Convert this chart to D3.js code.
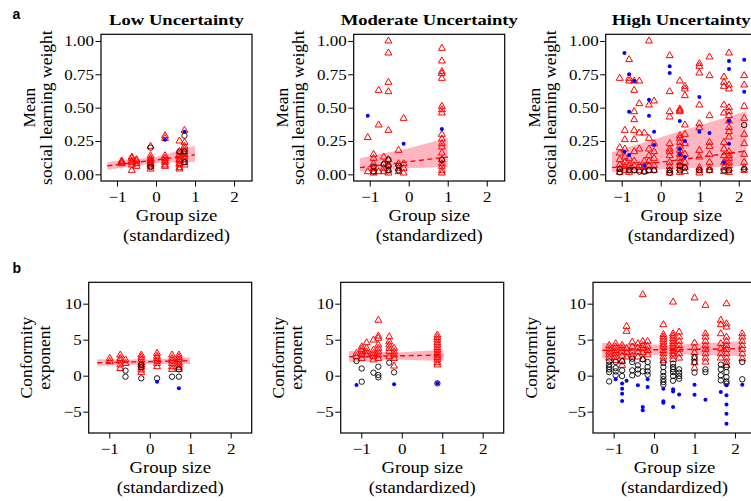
<!DOCTYPE html>
<html>
<head>
<meta charset="utf-8">
<script src="https://cdn.jsdelivr.net/npm/d3@7"></script>
<style>
  body { margin: 0; background: #fff; }
  svg { display: block; }
</style>
</head>
<body>
<svg id="fig" width="751" height="501"></svg>
<script>
// ---------- tick values and labels ----------
const xTicks = [-1, 0, 1, 2];
const weightTicks = [0, 0.25, 0.5, 0.75, 1];
const exponentTicks = [-5, 0, 5, 10];
const conditions = ["Low Uncertainty", "Moderate Uncertainty", "High Uncertainty"];
const xLabel = ["Group size", "(standardized)"];
const weightLabel = ["Mean", "social learning weight"];
const exponentLabel = ["Conformity", "exponent"];

// ---------- data: [group size, [values...]] per marker type ----------
// Mean social learning weight
const weightLowTri = [
  [-0.88, [0.08, 0.09, 0.095, 0.10]],
  [-0.62, [0.03, 0.07, 0.09, 0.10, 0.12, 0.13]],
  [-0.50, [0.06, 0.08, 0.10, 0.11]],
  [-0.14, [0.04, 0.06, 0.07, 0.08, 0.09, 0.10, 0.11, 0.12, 0.14, 0.21]],
  [0.23, [0.06, 0.07, 0.09, 0.10, 0.12, 0.14, 0.27, 0.29]],
  [0.60, [0.04, 0.05, 0.07, 0.08, 0.10, 0.11, 0.13, 0.15, 0.17, 0.25]],
  [0.73, [0.07, 0.09, 0.11, 0.13, 0.15, 0.17, 0.19, 0.21, 0.24, 0.33]]
];
const weightLowCirc = [[-0.14, [0.20, 0.055]], [0.60, [0.17]], [0.73, [0.29, 0.17, 0.09]]];
const weightLowDot = [[0.23, [0.26]], [0.73, [0.32]]];

const weightModTri = [
  [-1.05, [0.276, 0.02]],
  [-0.90, [0.15, 0.12, 0.08, 0.045, 0.02, 0.01]],
  [-0.77, [0.63, 0.37, 0.02]],
  [-0.64, [0.13, 0.08, 0.045, 0.02]],
  [-0.52, [1.0, 0.91, 0.69, 0.62, 0.33, 0.11, 0.07, 0.03, 0.01]],
  [-0.26, [0.18, 0.08, 0.045, 0.02]],
  [-0.13, [0.42, 0.08, 0.045, 0.01]],
  [0.85, [0.945, 0.85, 0.77, 0.755, 0.72, 0.51, 0.485, 0.46, 0.30, 0.265, 0.23, 0.205, 0.16, 0.11, 0.08, 0.06, 0.03, 0.01]]
];
const weightModCirc = [[-0.90, [0.058, 0.02]], [-0.64, [0.075]], [-0.52, [0.11, 0.065, 0.03]], [-0.26, [0.065, 0.03]], [0.85, [0.11]]];
const weightModDot = [[-1.05, [0.44]], [-0.13, [0.23]], [0.85, [0.34]]];

const weightHighTri = [
  [-1.05, [0.72, 0.20, 0.16, 0.11, 0.07, 0.04, 0.015]],
  [-0.92, [0.33, 0.26, 0.19, 0.13, 0.09, 0.06, 0.03]],
  [-0.81, [0.86, 0.72, 0.70, 0.12, 0.065, 0.03, 0.015]],
  [-0.68, [0.70, 0.63, 0.47, 0.41, 0.33, 0.26, 0.17, 0.10, 0.065, 0.03]],
  [-0.55, [0.70, 0.53, 0.31, 0.19, 0.065, 0.03]],
  [-0.42, [0.31, 0.10, 0.06, 0.02]],
  [-0.30, [1.0, 0.52, 0.27, 0.19, 0.14, 0.10, 0.065, 0.03]],
  [-0.17, [0.55, 0.23, 0.17, 0.12, 0.065, 0.03]],
  [0.23, [0.89, 0.62, 0.47, 0.43, 0.23, 0.19, 0.17, 0.14, 0.09, 0.06, 0.03, 0.01]],
  [0.49, [0.70, 0.49, 0.48, 0.47, 0.29, 0.27, 0.24, 0.21, 0.18, 0.15, 0.12, 0.09, 0.065, 0.04, 0.015]],
  [0.62, [0.66, 0.64, 0.59, 0.37, 0.30, 0.23, 0.15, 0.09, 0.05, 0.02]],
  [0.99, [0.83, 0.81, 0.76, 0.52, 0.38, 0.35, 0.18, 0.13, 0.05, 0.03, 0.01]],
  [1.25, [0.88, 0.74, 0.44, 0.24, 0.21, 0.15, 0.09, 0.05, 0.03]],
  [1.62, [0.73, 0.69, 0.66, 0.52, 0.46, 0.24, 0.19, 0.14, 0.09, 0.05, 0.02]],
  [1.75, [0.91, 0.67, 0.64, 0.50, 0.47, 0.44, 0.40, 0.35, 0.32, 0.28, 0.17, 0.14, 0.12, 0.09, 0.065, 0.04, 0.015]],
  [2.14, [0.74, 0.67, 0.51, 0.42, 0.30, 0.23, 0.15, 0.09, 0.05, 0.03]]
];
const weightHighCirc = [
  [-1.05, [0.04, 0.015]], [-0.81, [0.03]], [-0.68, [0.03]], [-0.55, [0.02]], [-0.42, [0.02]],
  [-0.30, [0.03]], [-0.17, [0.03]], [0.23, [0.03, 0.01]], [0.49, [0.065, 0.03]], [0.62, [0.05]],
  [0.99, [0.03]], [1.25, [0.03]], [1.62, [0.03]], [1.75, [0.03]], [2.14, [0.37, 0.04]]
];
const weightHighDot = [
  [-0.93, [0.91, 0.17]], [-0.81, [0.75, 0.47, 0.145]], [-0.68, [0.70]], [-0.42, [0.065]],
  [-0.30, [0.56, 0.44]], [-0.17, [0.32, 0.22]], [0.23, [0.81, 0.76]], [0.49, [0.40, 0.19, 0.15]],
  [0.62, [0.25, 0.13]], [0.99, [0.58, 0.32]], [1.25, [0.31]], [1.62, [0.09]],
  [1.75, [0.85, 0.79, 0.40, 0.23]], [2.14, [0.86, 0.62]]
];

// Conformity exponent
const expLowTri = [
  [-0.99, [2.4, 1.95]],
  [-0.73, [2.87, 2.4, 2.04, 1.5, 1.0]],
  [-0.60, [2.2, 1.7]],
  [-0.21, [2.87, 2.55, 2.2, 1.8, 1.5, 1.16, 0.8, 0.46]],
  [0.18, [3.1, 2.7, 2.4, 2.04, 1.7, 1.25]],
  [0.55, [2.87, 2.4, 2.04, 1.7, 1.25, 0.88]],
  [0.72, [2.87, 2.55, 2.2, 1.8, 1.5, 1.16, 0.88]]
];
const expLowCirc = [[-0.60, [0.7, -0.14]], [-0.21, [1.5, 1.16, -0.37]], [0.18, [-0.37]], [0.55, [-0.14]], [0.72, [0.88, -0.14]]];
const expLowDot = [[0.18, [-0.83]], [0.72, [-1.76]]];

const expModTri = [
  [-1.12, [3.1, 2.64]],
  [-0.99, [4.0, 3.66, 3.33, 2.87, 2.4]],
  [-0.87, [4.58, 3.8, 3.33, 2.87]],
  [-0.70, [4.95, 3.56, 3.1, 2.64, 2.2]],
  [-0.58, [7.7, 5.5, 5.2, 4.26, 3.8, 3.33, 2.87, 2.4]],
  [-0.31, [5.4, 4.7, 4.26, 3.8, 3.33, 2.64]],
  [-0.19, [3.8, 3.33, 2.87, 2.4, 1.34]],
  [0.88, [5.65, 5.3, 4.95, 4.58, 4.26, 3.9, 3.56, 3.2, 2.87, 2.55, 2.2, 1.8, 1.5]]
];
const expModCirc = [[-1.12, [2.04]], [-0.99, [1.0, -0.83]], [-0.70, [0.42]], [-0.58, [1.25, 0.1, -0.23]], [-0.31, [1.8]], [-0.19, [0.46]], [0.88, [-1.06]]];
const expModDot = [[-1.12, [-1.3]], [-0.19, [-1.2]], [0.88, [-1.06]]];

const expHighTri = [
  [-1.11, [4.2, 3.75, 3.3, 2.9, 2.45]],
  [-0.95, [4.44, 4.0, 3.5, 3.05, 2.6, 2.13]],
  [-0.79, [4.2, 3.75, 3.3, 2.73, 2.0, 1.44]],
  [-0.68, [6.85, 6.16, 3.75, 3.2, 2.6]],
  [-0.54, [4.67, 4.0, 3.3, 2.73]],
  [-0.40, [4.44, 3.85, 3.3, 2.6]],
  [-0.28, [11.25, 4.77, 4.2, 3.75, 3.2, 2.27]],
  [-0.16, [4.77, 4.1, 3.5, 2.9]],
  [0.23, [7.08, 5.7, 5.37, 5.05, 4.67, 4.3, 4.0, 3.5, 3.05, 2.6, 2.13]],
  [0.47, [10.23, 5.83, 5.5, 5.14, 4.77, 4.44, 4.1, 3.75, 3.38, 3.05, 2.73, 2.27]],
  [0.62, [6.06, 5.37, 4.77, 4.2, 3.66, 3.05, 2.45]],
  [1.00, [10.8, 4.54, 3.85, 3.2, 2.45, 1.8, 1.06]],
  [1.27, [9.77, 5.83, 5.37, 4.77, 4.2, 3.66, 3.05, 2.45, 1.9]],
  [1.65, [7.7, 7.08, 5.83, 4.44, 3.75, 3.05, 2.45]],
  [1.79, [10.0, 7.2, 6.76, 5.37, 4.77, 4.2, 3.66, 3.05, 2.45, 1.9, 1.44]],
  [2.18, [5.83, 5.37, 4.77, 4.2, 3.66, 3.05, 2.36]]
];
const expHighCirc = [
  [-1.11, [2.0, 1.53, 1.2, 0.88, 0.5, -0.8]],
  [-0.95, [1.9, 1.06, 0.6, 0.05]],
  [-0.79, [2.0, 0.74, -0.05]],
  [-0.54, [2.36, 1.9, 0.74, 0.05]],
  [-0.40, [1.44, 0.88, 0.28]],
  [-0.28, [2.27, 0.6]],
  [-0.16, [1.9, 1.2, 0.6, 0.14]],
  [0.23, [1.8, 1.2, 0.5, -0.05, -0.5, -0.88, -1.25]],
  [0.47, [1.67, 1.2, 0.88, 0.5, -0.05, -0.7]],
  [0.62, [0.88, 0.42, -0.05, -0.42]],
  [1.00, [2.6, 1.9, 0.42]],
  [1.27, [0.88, 0.5]],
  [1.65, [1.53, 0.88, 0.05, -0.65]],
  [1.79, [1.2, 0.5, -0.2, -0.8, -1.1]],
  [2.18, [1.9, -0.5]]
];
const expHighDot = [
  [-0.95, [-0.5]], [-0.79, [-1.1, -1.8, -2.5, -3.5]], [-0.68, [-0.7]], [-0.40, [-1.34]],
  [-0.28, [-4.35, -4.8]], [-0.16, [-0.5, -1.57]], [0.23, [-1.8, -3.56, -3.75]],
  [0.47, [-1.9, -2.2, -4.35]], [0.62, [-2.6]], [1.00, [-1.25, -2.64]], [1.27, [-3.33]],
  [1.65, [-2.27]], [1.79, [-1.34, -2.73, -4.0, -5.28, -6.67]], [2.18, [-1.25]]
];

// Fitted trend with confidence band: [group size, fit, lower, upper]
const weightLowFit = [[-1.25, 0.063, 0.035, 0.092], [0, 0.108, 0.085, 0.13], [1.0, 0.146, 0.095, 0.215]];
const weightModFit = [[-1.25, 0.05, 0.02, 0.12], [0, 0.095, 0.045, 0.195], [1.0, 0.13, 0.055, 0.275]];
const weightHighFit = [[-1.25, 0.05, 0.015, 0.166], [0.25, 0.10, 0.04, 0.30], [2.2, 0.175, 0.065, 0.475]];
const expLowFit = [[-1.3, 1.8, 1.35, 2.3], [0, 1.95, 1.6, 2.2], [1.0, 2.08, 1.62, 2.55]];
const expModFit = [[-1.3, 2.64, 1.86, 3.43], [0, 2.77, 2.2, 3.25], [1.03, 2.87, 2.04, 3.6]];
const expHighFit = [[-1.28, 3.52, 2.37, 4.54], [0.4, 3.62, 3.0, 4.25], [2.15, 3.75, 2.74, 4.78]];

// ---------- layout & styling ----------
const serif = "'Liberation Serif','Times New Roman',Times,serif";
const SX_TITLE = 1.2, SX_TICK = 1.13, SX_LABEL = 1.1;
const red = "#ff0000", blue = "#0000ff", bandFill = "#ffb6c1";

const rows = [
  {
    tag: "a", tagY: 19, top: 34.3, bottom: 181, lefts: [101, 353.7, 605.7], width: 151,
    xDomain: [-1.41, 2.46], yDomain: [-0.05, 1.05], yTicks: weightTicks, fmt: d3.format(".2f"),
    yLabel: weightLabel, yLabelOffsets: [-66, -49.5], titles: true,
    panels: [
      { tri: weightLowTri, circ: weightLowCirc, dot: weightLowDot, fit: weightLowFit },
      { tri: weightModTri, circ: weightModCirc, dot: weightModDot, fit: weightModFit },
      { tri: weightHighTri, circ: weightHighCirc, dot: weightHighDot, fit: weightHighFit }
    ]
  },
  {
    tag: "b", tagY: 272.5, top: 282.3, bottom: 433, lefts: [88.7, 340.7, 593], width: 163,
    xDomain: [-1.51, 2.52], yDomain: [-7.96, 12.97], yTicks: exponentTicks, fmt: d3.format("d"),
    yLabel: exponentLabel, yLabelOffsets: [-56.5, -38.5], titles: false,
    panels: [
      { tri: expLowTri, circ: expLowCirc, dot: expLowDot, fit: expLowFit },
      { tri: expModTri, circ: expModCirc, dot: expModDot, fit: expModFit },
      { tri: expHighTri, circ: expHighCirc, dot: expHighDot, fit: expHighFit }
    ]
  }
];

const svg = d3.select("#fig");

function stretched(g, x, y, txt, size, sx, anchor, weight) {
  return g.append("text")
    .attr("transform", `translate(${x},${y}) scale(${sx},1)`)
    .attr("text-anchor", anchor)
    .attr("font-family", serif)
    .attr("font-size", size)
    .attr("font-weight", weight || "normal")
    .attr("fill", "#000")
    .text(txt);
}

const flatten = clusters => clusters.flatMap(([x, ys]) => ys.map(y => ({ x, y })));
const triPath = d3.symbol(d3.symbolTriangle, 21)();

rows.forEach(row => {
  // panel letter
  svg.append("text")
    .attr("x", 12.5).attr("y", row.tagY)
    .attr("font-family", "'Liberation Sans',Arial,sans-serif")
    .attr("font-weight", "bold").attr("font-size", 14)
    .text(row.tag);

  row.panels.forEach((p, i) => {
    const left = row.lefts[i], right = left + row.width;
    const x = d3.scaleLinear().domain(row.xDomain).range([left, right]);
    const y = d3.scaleLinear().domain(row.yDomain).range([row.bottom, row.top]);
    const g = svg.append("g");

    // confidence band
    g.append("path")
      .datum(p.fit)
      .attr("fill", bandFill)
      .attr("d", d3.area().x(d => x(d[0])).y0(d => y(d[2])).y1(d => y(d[3])));

    // observations
    g.append("g").selectAll("path")
      .data(flatten(p.tri)).join("path")
      .attr("d", triPath)
      .attr("transform", d => `translate(${x(d.x)},${y(d.y)})`)
      .attr("fill", "none").attr("stroke", red).attr("stroke-width", 1);

    g.append("g").selectAll("circle")
      .data(flatten(p.circ)).join("circle")
      .attr("cx", d => x(d.x)).attr("cy", d => y(d.y)).attr("r", 2.7)
      .attr("fill", "none").attr("stroke", "#000").attr("stroke-width", 0.9);

    g.append("g").selectAll("circle")
      .data(flatten(p.dot)).join("circle")
      .attr("cx", d => x(d.x)).attr("cy", d => y(d.y)).attr("r", 2)
      .attr("fill", blue);

    // fitted trend
    g.append("path")
      .datum(p.fit)
      .attr("fill", "none").attr("stroke", red).attr("stroke-width", 1.4)
      .attr("stroke-dasharray", "5,3.5")
      .attr("d", d3.line().x(d => x(d[0])).y(d => y(d[1])));

    // frame
    g.append("rect")
      .attr("x", left).attr("y", row.top)
      .attr("width", row.width).attr("height", row.bottom - row.top)
      .attr("fill", "none").attr("stroke", "#000").attr("stroke-width", 1.2);

    // axes
    const yAxis = g.append("g").attr("transform", `translate(${left},0)`)
      .call(d3.axisLeft(y).tickValues(row.yTicks).tickFormat(row.fmt).tickSize(5.5).tickPadding(1.5));
    const xAxis = g.append("g").attr("transform", `translate(0,${row.bottom})`)
      .call(d3.axisBottom(x).tickValues(xTicks).tickFormat(d3.format("d")).tickSize(5.5).tickPadding(1.5));
    [yAxis, xAxis].forEach(ax => {
      ax.select(".domain").remove();
      ax.selectAll(".tick line").attr("stroke", "#000").attr("stroke-width", 1);
      ax.selectAll("text").attr("font-family", serif).attr("font-size", 15).attr("fill", "#000");
    });
    yAxis.selectAll("text").attr("x", -7 / SX_TICK).attr("dy", "0.33em")
      .attr("transform", `scale(${SX_TICK},1)`);
    xAxis.selectAll("text").attr("y", 0).attr("dy", 21)
      .attr("transform", `scale(${SX_TICK},1)`);

    // axis titles
    const cx = (left + right) / 2;
    stretched(g, cx, row.bottom + 40, xLabel[0], 17, SX_LABEL, "middle");
    stretched(g, cx, row.bottom + 59.5, xLabel[1], 17, SX_LABEL, "middle");
    const cy = (row.top + row.bottom) / 2;
    row.yLabel.forEach((t, k) => {
      g.append("text")
        .attr("transform", `translate(${left + row.yLabelOffsets[k]},${cy}) rotate(-90)`)
        .attr("text-anchor", "middle")
        .attr("font-family", serif).attr("font-size", 17.5).attr("fill", "#000")
        .text(t);
    });

    if (row.titles) {
      stretched(g, cx, 24.5, conditions[i], 15.5, SX_TITLE, "middle", "bold");
    }
  });
});
</script>
</body>
</html>
